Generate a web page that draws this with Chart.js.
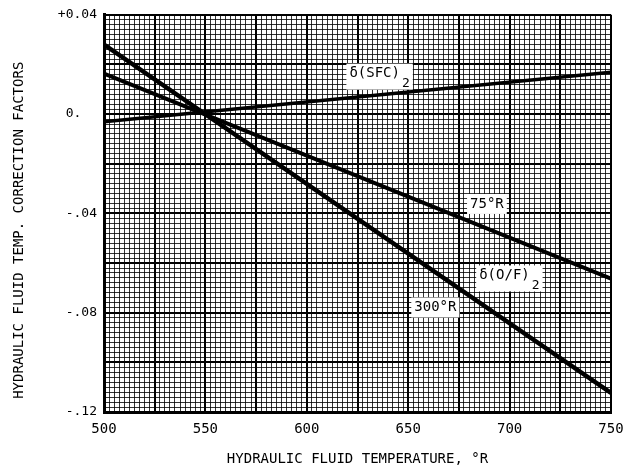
<!DOCTYPE html>
<html>
<head>
<meta charset="utf-8">
<script src="https://cdn.jsdelivr.net/npm/chart.js@4/dist/chart.umd.min.js"></script>
<style>
html,body{margin:0;padding:0;background:#fff;}
canvas{display:block;}
</style>
</head>
<body>
<canvas id="c" width="635" height="474"></canvas>
<script>
// ---- data ----
const temperatures = [500, 750];                 // hydraulic fluid temperature, °R
const sfcFactor    = [-0.0031, 0.0169];          // δ(SFC)2
const of75Factor   = [0.0163, -0.0663];          // δ(O/F)2 at 75°R
const of300Factor  = [0.0280, -0.1123];          // δ(O/F)2 at 300°R
const xTickLabels  = [500, 550, 600, 650, 700, 750];
const yTickValues  = [0.04, 0, -0.04, -0.08, -0.12];
const yTickLabels  = ['+0.04', '0.  ', '-.04', '-.08', '-.12'];
// curve labels: [text, subscript, x, y]
const curveLabels = [
  ['δ(SFC)', '2', 621, 0.0163],
  ['75°R', '', 680.5, -0.0362],
  ['δ(O/F)', '2', 685, -0.065],
  ['300°R', '', 653, -0.0779]
];

const FONT = '"DejaVu Sans Mono", "Liberation Mono", monospace';

function toPts(xs, ys){ return xs.map((x,i)=>({x:x, y:ys[i]})); }

const labelPlugin = {
  id: 'curveLabels',
  afterDatasetsDraw(chart){
    const ctx = chart.ctx;
    const xs = chart.scales.x, ys = chart.scales.y;
    ctx.save();
    ctx.font = '14px ' + FONT;
    ctx.textBaseline = 'middle';
    ctx.textAlign = 'left';
    curveLabels.forEach(([t, sub, xv, yv]) => {
      const px = xs.getPixelForValue(xv);
      const py = ys.getPixelForValue(yv);
      const w = ctx.measureText(t).width;
      const ctxSubFont = '13px ' + FONT;
      let sw = 0;
      if (sub) { ctx.font = ctxSubFont; sw = ctx.measureText(sub).width + 2; ctx.font = '14px ' + FONT; }
      ctx.fillStyle = '#fff';
      ctx.fillRect(px - 3, py - 10, w + sw + 6, sub ? 26 : 20);
      ctx.fillStyle = '#000';
      ctx.fillText(t, px, py);
      if (sub) {
        ctx.font = ctxSubFont;
        ctx.fillText(sub, px + w + 2, py + 10);
        ctx.font = '14px ' + FONT;
      }
    });
    ctx.restore();
  }
};

function near(v, step){ const r = v/step; return Math.abs(r - Math.round(r)) < 1e-6; }

new Chart(document.getElementById('c'), {
  type: 'line',
  data: {
    datasets: [
      { label: 'δ(SFC)2', data: toPts(temperatures, sfcFactor), borderColor: '#000', borderWidth: 3.5, pointRadius: 0, tension: 0 },
      { label: 'δ(O/F)2 75°R', data: toPts(temperatures, of75Factor), borderColor: '#000', borderWidth: 4, pointRadius: 0, tension: 0 },
      { label: 'δ(O/F)2 300°R', data: toPts(temperatures, of300Factor), borderColor: '#000', borderWidth: 4.5, pointRadius: 0, tension: 0 }
    ]
  },
  options: {
    responsive: false,
    animation: false,
    layout: { padding: { left: 0, top: 13, right: 24, bottom: 0 } },
    plugins: { legend: { display: false }, tooltip: { enabled: false } },
    scales: {
      x: {
        type: 'linear', min: 500, max: 750,
        afterFit(s){ s.height = 62; },
        border: { display: true, color: '#000', width: 3 },
        grid: {
          drawTicks: false,
          color: c => near(c.tick.value, 25) ? '#000' : 'rgba(0,0,0,0.8)',
          lineWidth: c => near(c.tick.value, 25) ? 2 : 1
        },
        ticks: {
          stepSize: 2.5, autoSkip: false, maxRotation: 0, minRotation: 0, padding: 9,
          color: '#000', font: { family: FONT, size: 14 },
          callback: v => { const i = xTickLabels.findIndex(t => Math.abs(t - v) < 1e-6); return i >= 0 ? String(xTickLabels[i]) : ''; }
        },
        title: { display: true, text: 'HYDRAULIC FLUID TEMPERATURE, °R', color: '#000', font: { family: FONT, size: 14 }, padding: { top: 0, bottom: 6 } }
      },
      y: {
        type: 'linear', min: -0.12, max: 0.04,
        afterFit(s){ s.width = 104; },
        border: { display: true, color: '#000', width: 3 },
        grid: {
          drawTicks: false,
          color: c => near(c.tick.value, 0.02) ? '#000' : 'rgba(0,0,0,0.8)',
          lineWidth: c => near(c.tick.value, 0.02) ? 2 : 1
        },
        ticks: {
          stepSize: 0.002, autoSkip: false, padding: 7,
          color: '#000', font: { family: FONT, size: 13 },
          callback: v => { const i = yTickValues.findIndex(t => Math.abs(t - v) < 1e-7); return i >= 0 ? yTickLabels[i] : ''; }
        },
        title: { display: true, text: 'HYDRAULIC FLUID TEMP. CORRECTION FACTORS    ', color: '#000', font: { family: FONT, size: 14 }, padding: { top: 11, bottom: 0 } }
      }
    }
  },
  plugins: [labelPlugin]
});
</script>
</body>
</html>
